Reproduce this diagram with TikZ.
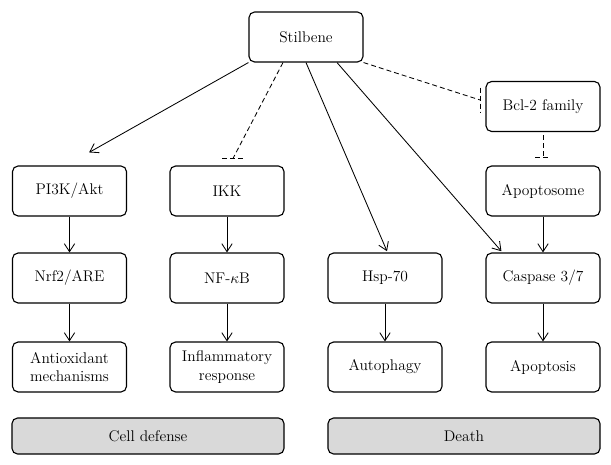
\documentclass[tikz,border=0pt]{standalone}
\usetikzlibrary{arrows.meta}
\begin{document}
\begin{tikzpicture}[x=0.025cm,y=-0.025cm,
	blk/.style={draw,line width=0.8pt,rounded corners=4pt,minimum width=2.85cm,minimum height=1.25cm,align=center,inner sep=1pt,font=\fontsize{11}{13}\selectfont},
	grp/.style={blk,fill=black!15,minimum width=6.8cm,minimum height=0.9cm},
	act/.style={line width=0.6pt,-{Straight Barb[length=2mm,width=2.6mm]}},
	inh/.style={line width=0.6pt,dash pattern=on 3.5pt off 2.2pt}]
	
	\useasboundingbox (0,0) rectangle (611,465);
	\node[blk] (stil) at (306,37) {Stilbene};
	\node[blk] (bcl) at (543,106.5) {Bcl-2 family};
	\node[blk] (pi3k) at (69.5,191) {PI3K/Akt};
	\node[blk] (ikk) at (227,191) {IKK};
	\node[blk] (apop) at (543,191) {Apoptosome};
	\node[blk] (nrf) at (69.5,278) {Nrf2/ARE};
	\node[blk] (nfkb) at (227,278) {NF-$\kappa$B};
	\node[blk] (hsp) at (385,278) {Hsp-70};
	\node[blk] (casp) at (543,278) {Caspase 3/7};
	\node[blk] (antiox) at (69.5,367) {Antioxidant\\mechanisms};
	\node[blk] (inflam) at (227,367) {Inflammatory\\response};
	\node[blk] (autoph) at (385,367) {Autophagy};
	\node[blk] (apopt) at (543,367) {Apoptosis};
	\node[grp] (defense) at (148,436) {Cell defense};
	\node[grp] (death) at (464,436) {Death};
	
	\draw[act] (stil.south west) -- ([xshift=0.49cm,yshift=0.325cm]pi3k.north);
	\draw[inh] ([xshift=-0.575cm]stil.south) -- ([xshift=0.15cm,yshift=0.175cm]ikk.north) coordinate (ikkbar);
	\draw[inh] ([xshift=-0.275cm]ikkbar) -- ([xshift=0.275cm]ikkbar);
	\draw[act] (stil.south) -- ([xshift=0.05cm,yshift=0.03cm]hsp.north);
	\draw[act] ([xshift=0.775cm]stil.south) -- ([xshift=0.4cm,yshift=0.03cm]casp.north west);
	\draw[inh] (stil.south east) -- ([xshift=-0.125cm,yshift=0.16cm]bcl.west) coordinate (bclbar);
	\draw[inh] ([yshift=0.31cm]bclbar) -- ([yshift=-0.31cm]bclbar);
	\draw[inh] ([yshift=-0.075cm]bcl.south) -- ([yshift=0.21cm]apop.north) coordinate (apopbar);
	\draw[inh] ([xshift=-0.2cm]apopbar) -- ([xshift=0.2cm]apopbar);
	\foreach \a/\b in {pi3k/nrf,nrf/antiox,ikk/nfkb,nfkb/inflam,hsp/autoph,apop/casp,casp/apopt}
		\draw[act] (\a) -- (\b);
\end{tikzpicture}
\end{document}
